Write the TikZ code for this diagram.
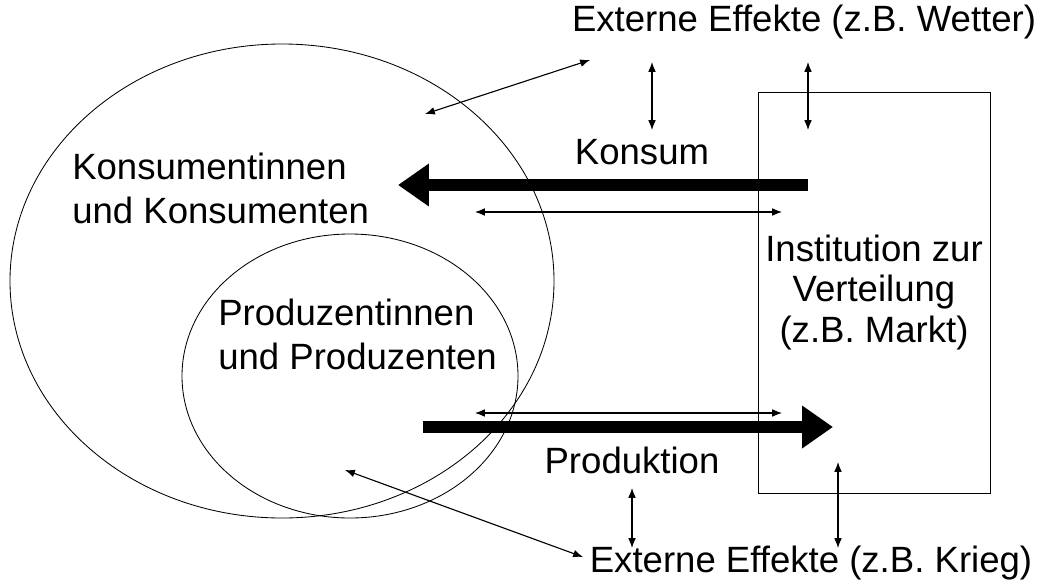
\documentclass[tikz,border=0pt]{standalone}
\usepackage{fontspec}
\setmainfont{Liberation Sans}
\usetikzlibrary{arrows.meta}

\tikzset{
    txt/.style={font=\fontsize{26}{31.3}\selectfont, inner sep=0pt},
    both/.style={{Latex[length=7pt,width=5.5pt]}-{Latex[length=7pt,width=5.5pt]}, line width=0.8pt},
    flow/.style={-{Triangle[length=22pt,width=29pt]}, line width=8.5pt},
}

\begin{document}
\begin{tikzpicture}[x=0.025cm, y=-0.025cm]
            \useasboundingbox (0,0) rectangle (1039,587);

            % Groups
            \draw[line width=0.6pt] (282,281) ellipse [x radius=272, y radius=237];
            \draw[line width=0.6pt] (350,376) ellipse [x radius=168, y radius=142];
            \node[txt, anchor=west, align=left] (kons) at (72,188) {Konsumentinnen\\und Konsumenten};
            \node[txt, anchor=west, align=left] (prodz) at (218,334) {Produzentinnen\\und Produzenten};

            % Market
            \node[txt, draw, line width=0.6pt, align=center, minimum width=5.8cm, minimum height=10.025cm,
                font=\fontsize{26}{28.5}\selectfont]
                (markt) at (874,292.5) {Institution zur\\Verteilung\\(z.B. Markt)};

            % Labels
            \node[txt] (wetter) at (804,22) {Externe Effekte (z.B. Wetter)};
            \node[txt] (krieg) at (811,563) {Externe Effekte (z.B. Krieg)};
            \node[txt] (konsum) at (642,152) {Konsum};
            \node[txt] (produktion) at (632,460) {Produktion};

            % Flows
            \coordinate (k1) at (808,185);
            \coordinate (k2) at (398,185);
            \coordinate (p1) at (423,427);
            \coordinate (p2) at (833,427);
            \draw[flow] (k1) -- (k2);
            \draw[flow] (p1) -- (p2);

            % Exchanges
            \coordinate (a1) at (475,212);
            \coordinate (a2) at (782,212);
            \coordinate (b1) at (475,413);
            \coordinate (b2) at (782,413);
            \draw[both] (a1) -- (a2);
            \draw[both] (b1) -- (b2);

            % External effects
            \coordinate (w1) at (652,62);
            \coordinate (w2) at (652,130);
            \coordinate (w3) at (808,62);
            \coordinate (w4) at (808,130);
            \coordinate (w5) at (590,60);
            \coordinate (w6) at (425,114);
            \draw[both] (w1) -- (w2);
            \draw[both] (w3) -- (w4);
            \draw[both] (w5) -- (w6);

            \coordinate (r1) at (632,488);
            \coordinate (r2) at (632,548);
            \coordinate (r3) at (838,462);
            \coordinate (r4) at (838,548);
            \coordinate (r5) at (345,470);
            \coordinate (r6) at (583,557);
            \draw[both] (r1) -- (r2);
            \draw[both] (r3) -- (r4);
            \draw[both] (r5) -- (r6);
\end{tikzpicture}
\end{document}
